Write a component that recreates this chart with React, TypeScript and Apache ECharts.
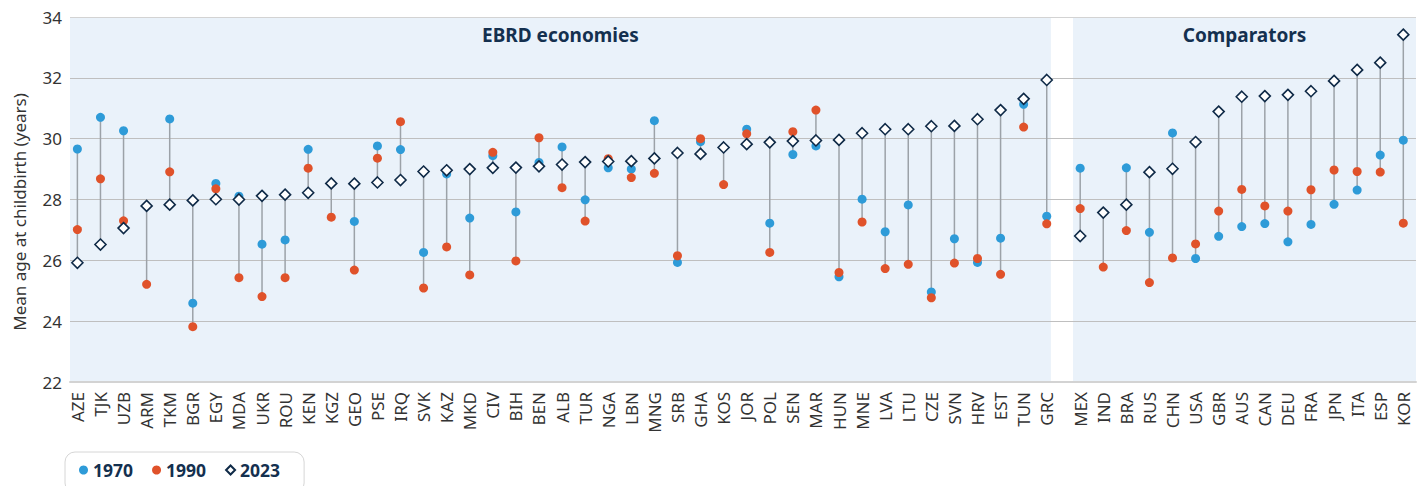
import React, { useEffect, useRef } from "react";
import * as echarts from "echarts";

const groupNames = ["EBRD economies", "Comparators"];
const yAxisTitle = "Mean age at childbirth (years)";

const ebrdCats = ["AZE","TJK","UZB","ARM","TKM","BGR","EGY","MDA","UKR","ROU","KEN","KGZ","GEO","PSE","IRQ","SVK","KAZ","MKD","CIV","BIH","BEN","ALB","TUR","NGA","LBN","MNG","SRB","GHA","KOS","JOR","POL","SEN","MAR","HUN","MNE","LVA","LTU","CZE","SVN","HRV","EST","TUN","GRC"];
const ebrd1970 = [29.66,30.70,30.26,null,30.65,24.59,28.53,28.11,26.53,26.67,29.65,null,27.28,29.76,29.64,26.26,28.84,27.39,29.44,27.59,29.22,29.73,27.99,29.04,29.0,30.59,25.93,29.9,null,30.31,27.22,29.48,29.76,25.46,28.01,26.94,27.82,24.96,26.71,25.93,26.73,31.13,27.45];
const ebrd1990 = [27.01,28.68,27.30,25.21,28.91,23.82,28.35,25.43,24.81,25.43,29.03,27.42,25.68,29.36,30.56,25.09,26.44,25.52,29.55,25.98,30.03,28.39,27.29,29.34,28.72,28.86,26.15,30.0,28.49,30.16,26.26,30.23,30.94,25.6,27.26,25.73,25.87,24.77,25.91,26.06,25.54,30.38,27.20];
const ebrd2023 = [25.92,26.52,27.06,27.79,27.83,27.97,28.01,28.0,28.12,28.16,28.22,28.53,28.52,28.56,28.64,28.92,28.96,29.0,29.04,29.05,29.09,29.15,29.23,29.25,29.26,29.35,29.53,29.50,29.71,29.82,29.88,29.92,29.94,29.96,30.18,30.31,30.31,30.41,30.42,30.64,30.94,31.31,31.93];

const compCats = ["MEX","IND","BRA","RUS","CHN","USA","GBR","AUS","CAN","DEU","FRA","JPN","ITA","ESP","KOR"];
const comp1970 = [29.03,null,29.04,26.92,30.19,26.06,26.79,27.11,27.21,26.61,27.18,27.84,28.31,29.46,29.95];
const comp1990 = [27.70,25.78,26.98,25.27,26.08,26.54,27.62,28.33,27.79,27.62,28.32,28.97,28.92,28.90,27.22];
const comp2023 = [26.80,27.57,27.83,28.90,29.01,29.89,30.89,31.38,31.40,31.44,31.56,31.90,32.26,32.50,33.42];

const seriesNames = ["1970", "1990", "2023"];
const yTicks = { min: 22, max: 34, interval: 2 };

// layout constants (positions on the x value axis)
const COMP_OFFSET = 43.45;
const X_MIN = -0.32;
const X_MAX = 58.0;
const BAND1_END = 42.18;
const BAND2_START = 43.14;

export default function App() {
  const ref = useRef<HTMLDivElement>(null);

  useEffect(() => {
    document.body.style.margin = "0";
    if (!ref.current) return;
    const chart = echarts.init(ref.current, null, { renderer: "svg" });

    const cats = [...ebrdCats, ...compCats];
    const pos = [...ebrdCats.map((_, i) => i), ...compCats.map((_, j) => COMP_OFFSET + j)];
    const v1970 = [...ebrd1970, ...comp1970];
    const v1990 = [...ebrd1990, ...comp1990];
    const v2023 = [...ebrd2023, ...comp2023];

    const pts = (arr: (number | null)[]) =>
      arr.map((v, i) => (v == null ? null : [pos[i], v])).filter((d) => d != null);

    const ranges = cats.map((_, i) => {
      const vals = [v1970[i], v1990[i], v2023[i]].filter((v) => v != null) as number[];
      return [pos[i], Math.min(...vals), Math.max(...vals)];
    });

    const nameFor = (v: number) => {
      let best = 0;
      let bd = Infinity;
      pos.forEach((p, i) => {
        const d = Math.abs(p - v);
        if (d < bd) { bd = d; best = i; }
      });
      return cats[best];
    };

    const font = "'Noto Sans', 'Open Sans', sans-serif";

    chart.setOption({
      animation: false,
      textStyle: { fontFamily: font },
      grid: { left: 70, right: 9, top: 17, bottom: 104 },
      graphic: [
        {
          type: "text",
          x: 19,
          y: 212,
          rotation: Math.PI / 2,
          style: {
            text: yAxisTitle,
            fontSize: 17,
            fill: "#333",
            fontFamily: font,
            align: "center",
            verticalAlign: "middle",
          },
        },
      ],
      legend: {
        data: seriesNames,
        left: 65,
        top: 452,
        orient: "horizontal",
        itemWidth: 9,
        itemHeight: 9,
        itemGap: 19,
        padding: [9, 24, 14, 14],
        borderColor: "#d6d6d6",
        borderWidth: 1,
        borderRadius: 10,
        textStyle: { fontSize: 17.5, fontWeight: "bold", color: "#14304f", fontFamily: font },
      },
      xAxis: {
        type: "value",
        min: X_MIN,
        max: X_MAX,
        z: 3,
        splitLine: { show: false },
        axisTick: { show: false },
        axisLine: { show: true, onZero: false, lineStyle: { color: "#d3d3d3", width: 2 } },
        axisLabel: {
          customValues: pos,
          formatter: (v: number) => nameFor(v),
          rotate: 90,
          margin: 10,
          fontSize: 17,
          color: "#333",
          fontFamily: font,
          showMinLabel: true,
          showMaxLabel: true,
        },
      },
      yAxis: {
        type: "value",
        min: yTicks.min,
        max: yTicks.max,
        interval: yTicks.interval,
        z: 3,
        axisLine: { show: false },
        axisTick: { show: false },
        axisLabel: { fontSize: 17, color: "#333", margin: 8, fontFamily: font },
        splitLine: { lineStyle: { color: ["#d3d3d3", "#bfbfbf", "#bfbfbf", "#bfbfbf", "#bfbfbf", "#bfbfbf", "#d3d3d3"], width: 1 } },
      },
      series: [
        {
          type: "line",
          silent: true,
          data: [],
          z: 0,
          markArea: {
            silent: true,
            z: 0,
            itemStyle: { color: "#eaf2fa" },
            label: {
              show: true,
              position: "insideTop",
              distance: 8,
              fontSize: 19,
              fontWeight: "bold",
              color: "#14304f",
              fontFamily: font,
            },
            data: [
              [{ name: groupNames[0], xAxis: X_MIN }, { xAxis: BAND1_END }],
              [{ name: groupNames[1], xAxis: BAND2_START }, { xAxis: X_MAX }],
            ],
          },
        },
        {
          type: "custom",
          silent: true,
          data: ranges,
          encode: { x: 0, y: [1, 2] },
          renderItem: (params: any, api: any) => {
            const p1 = api.coord([api.value(0), api.value(1)]);
            const p2 = api.coord([api.value(0), api.value(2)]);
            return {
              type: "line",
              shape: { x1: p1[0], y1: p1[1], x2: p2[0], y2: p2[1] },
              style: { stroke: "#9ca2a8", lineWidth: 1.5 },
            };
          },
          z: 4,
        },
        {
          name: seriesNames[0],
          type: "scatter",
          data: pts(v1970),
          symbol: "circle",
          symbolSize: 9,
          itemStyle: { color: "#2e9bd8", opacity: 1 },
          z: 5,
        },
        {
          name: seriesNames[1],
          type: "scatter",
          data: pts(v1990),
          symbol: "circle",
          symbolSize: 9,
          itemStyle: { color: "#e0522a", opacity: 1 },
          z: 6,
        },
        {
          name: seriesNames[2],
          type: "scatter",
          data: pts(v2023),
          symbol: "diamond",
          symbolSize: 11,
          itemStyle: { color: "#ffffff", borderColor: "#0f2a47", borderWidth: 1.6, opacity: 1 },
          z: 7,
        },
      ],
    });

    return () => chart.dispose();
  }, []);

  return <div ref={ref} style={{ width: 1425, height: 486 }} />;
}
